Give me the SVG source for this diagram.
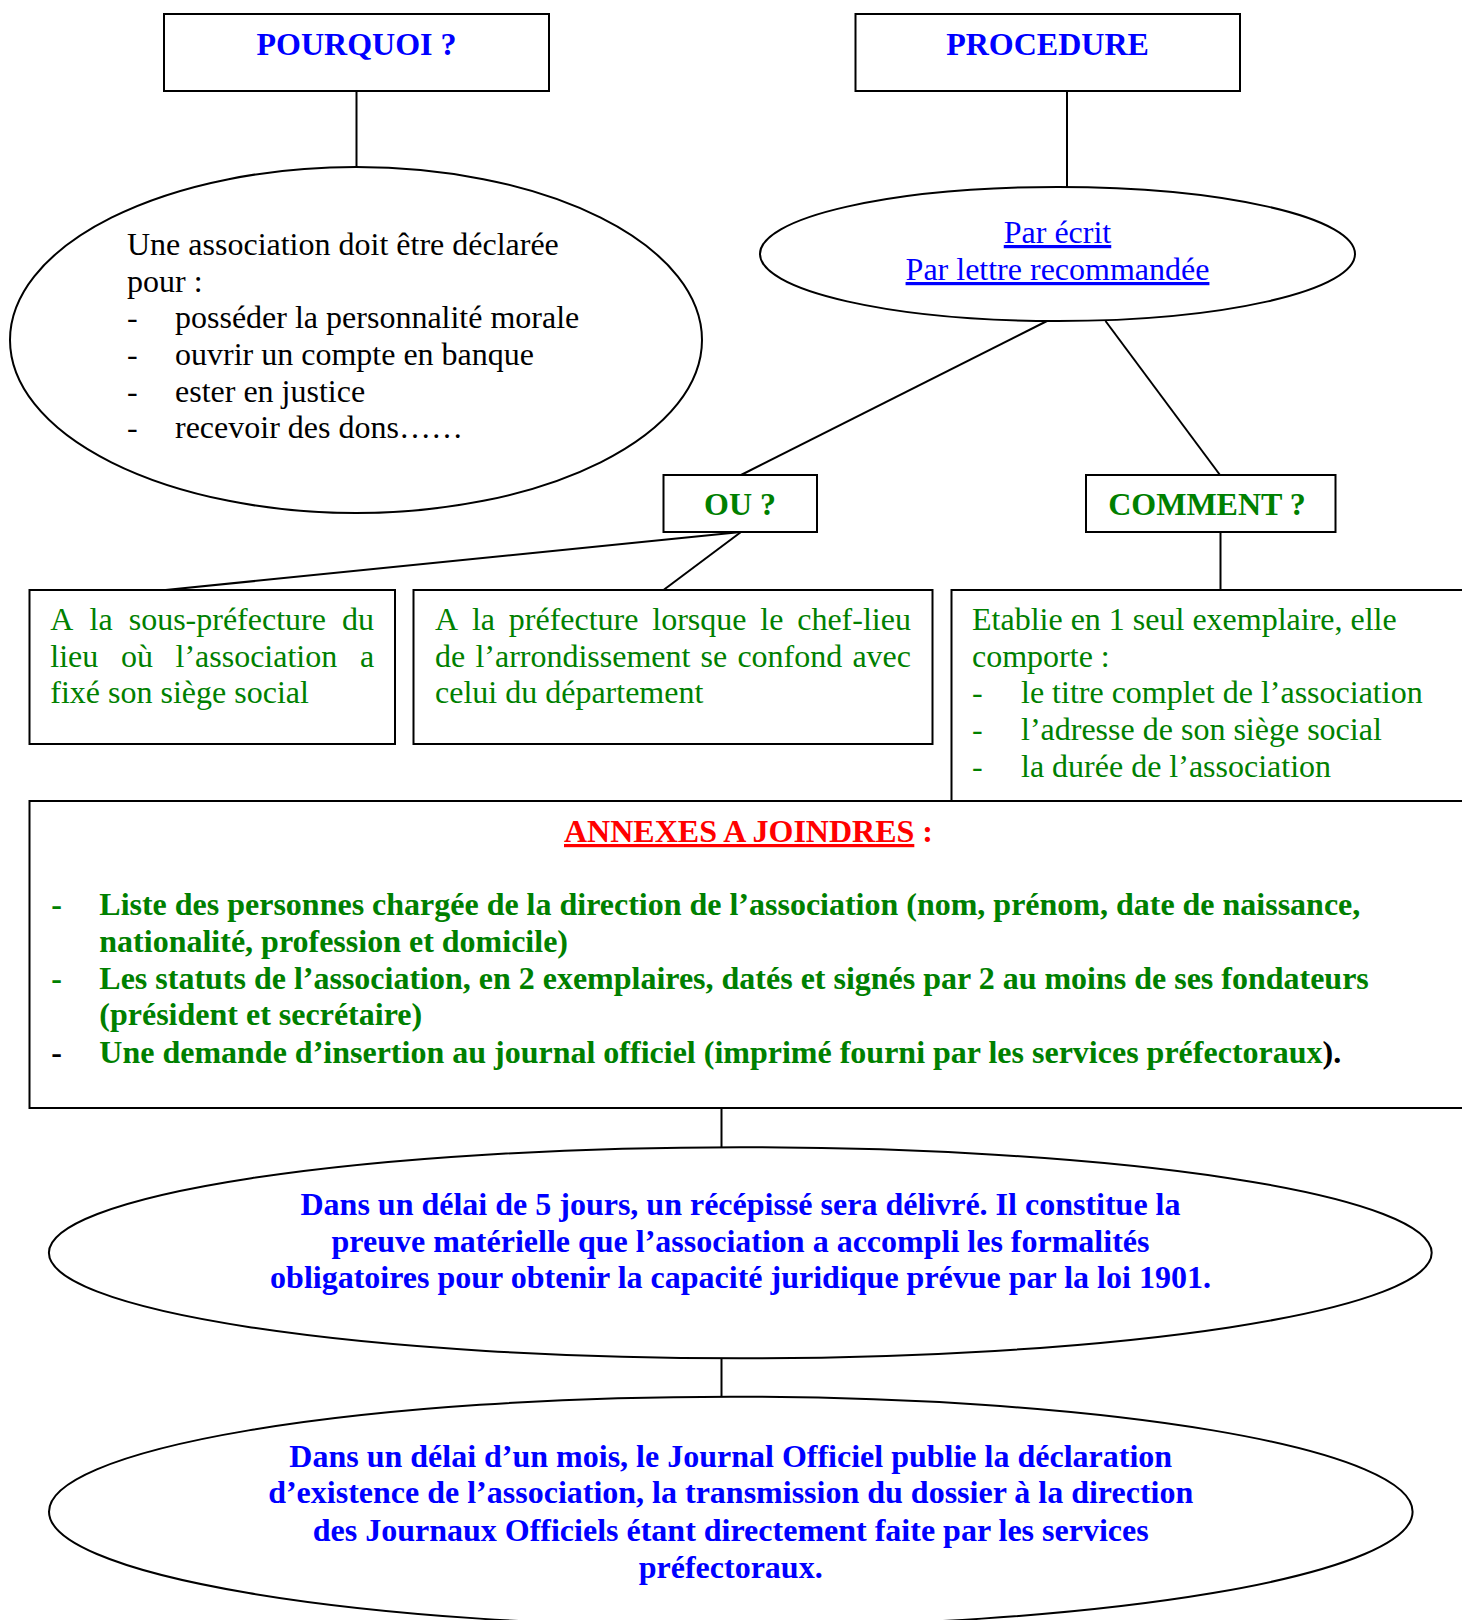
<svg xmlns="http://www.w3.org/2000/svg" width="1462" height="1620" viewBox="0 0 1462 1620">
  <style>
    text { font-family: "Liberation Serif", "Times New Roman", serif; font-size: 32px; }
    .shape { fill: #ffffff; stroke: #000000; stroke-width: 2; }
    .link { stroke: #000000; stroke-width: 2; fill: none; }
    .b { font-weight: bold; }
    .blue { fill: #0000ff; }
    .green { fill: #008000; }
    .red { fill: #ff0000; }
    .black { fill: #000000; }
    .mid { text-anchor: middle; }
    .ul { text-decoration: underline; }
  </style>
  <rect width="1462" height="1620" fill="#ffffff"/>

  <!-- connectors -->
  <g id="connectors">
    <line class="link" x1="356.5" y1="91" x2="356.5" y2="167"/>
    <line class="link" x1="1067" y1="91" x2="1067" y2="187"/>
    <line class="link" x1="1047" y1="321" x2="741" y2="475"/>
    <line class="link" x1="1105.5" y1="321" x2="1220" y2="475"/>
    <line class="link" x1="741" y1="532" x2="165.5" y2="590"/>
    <line class="link" x1="741" y1="532" x2="663.5" y2="590"/>
    <line class="link" x1="1220.5" y1="532" x2="1220.5" y2="590"/>
    <line class="link" x1="721.5" y1="1108" x2="721.5" y2="1147"/>
    <line class="link" x1="721.5" y1="1358" x2="721.5" y2="1397"/>
  </g>

  <!-- POURQUOI ? -->
  <g id="pourquoi">
    <rect class="shape" x="164" y="14" width="385" height="77"/>
    <text class="b blue mid" x="356.5" y="55">POURQUOI ?</text>
  </g>

  <!-- PROCEDURE -->
  <g id="procedure">
    <rect class="shape" x="855.5" y="14" width="384.5" height="77"/>
    <text class="b blue mid" x="1047.5" y="55">PROCEDURE</text>
  </g>

  <!-- reasons for declaring -->
  <g id="raisons">
    <ellipse class="shape" cx="356" cy="340" rx="346" ry="173"/>
    <text class="black" x="127" y="255">Une association doit être déclarée</text>
    <text class="black" x="127" y="292">pour :</text>
    <text class="black" x="127" y="328">-</text>
    <text class="black" x="175" y="328">posséder la personnalité morale</text>
    <text class="black" x="127" y="365">-</text>
    <text class="black" x="175" y="365">ouvrir un compte en banque</text>
    <text class="black" x="127" y="402">-</text>
    <text class="black" x="175" y="402">ester en justice</text>
    <text class="black" x="127" y="438">-</text>
    <text class="black" x="175" y="438">recevoir des dons……</text>
  </g>

  <!-- written procedure -->
  <g id="ecrit">
    <ellipse class="shape" cx="1057.5" cy="254" rx="297.5" ry="67"/>
    <text class="blue mid ul" x="1057.5" y="243">Par écrit</text>
    <text class="blue mid ul" x="1057.5" y="280">Par lettre recommandée</text>
  </g>

  <!-- OU ? -->
  <g id="ou">
    <rect class="shape" x="663.5" y="475" width="153.5" height="57"/>
    <text class="b green mid" x="740" y="515">OU ?</text>
  </g>

  <!-- COMMENT ? -->
  <g id="comment">
    <rect class="shape" x="1086" y="475" width="249.5" height="57"/>
    <text class="b green mid" x="1207" y="515">COMMENT ?</text>
  </g>

  <!-- sous-préfecture (justified: words placed one by one) -->
  <g id="sous-prefecture">
    <rect class="shape" x="29.5" y="590" width="365.5" height="154"/>
    <text class="green" y="630"><tspan x="50.3">A</tspan><tspan x="89.5">la</tspan><tspan x="128.7">sous-préfecture</tspan><tspan x="342">du</tspan></text>
    <text class="green" y="667"><tspan x="50.3">lieu</tspan><tspan x="120.9">où</tspan><tspan x="175.5">l’association</tspan><tspan x="359.9">a</tspan></text>
    <text class="green" x="50.3" y="703">fixé son siège social</text>
  </g>

  <!-- préfecture (justified: words placed one by one) -->
  <g id="prefecture">
    <rect class="shape" x="413.5" y="590" width="519" height="154"/>
    <text class="green" y="630"><tspan x="435">A</tspan><tspan x="471.9">la</tspan><tspan x="508.8">préfecture</tspan><tspan x="652.3">lorsque</tspan><tspan x="760.3">le</tspan><tspan x="797.2">chef-lieu</tspan></text>
    <text class="green" y="667"><tspan x="435">de</tspan><tspan x="475.4">l’arrondissement</tspan><tspan x="700.5">se</tspan><tspan x="737.4">confond</tspan><tspan x="852.4">avec</tspan></text>
    <text class="green" x="435" y="703">celui du département</text>
  </g>

  <!-- contents of the declaration -->
  <g id="contenu">
    <rect class="shape" x="951.5" y="590" width="530" height="211"/>
    <text class="green" x="972" y="630">Etablie en 1 seul exemplaire, elle</text>
    <text class="green" x="972" y="667">comporte :</text>
    <text class="green" x="972" y="703">-</text>
    <text class="green" x="1021" y="703">le titre complet de l’association</text>
    <text class="green" x="972" y="740">-</text>
    <text class="green" x="1021" y="740">l’adresse de son siège social</text>
    <text class="green" x="972" y="777">-</text>
    <text class="green" x="1021" y="777">la durée de l’association</text>
  </g>

  <!-- documents to attach -->
  <g id="annexes">
    <rect class="shape" x="29.5" y="801" width="1452" height="307"/>
    <text class="b red" x="564" y="842"><tspan class="ul">ANNEXES A JOINDRES</tspan> :</text>
    <text class="b green" x="51.3" y="915">-</text>
    <text class="b green" x="99.3" y="915" textLength="1261" lengthAdjust="spacing">Liste des personnes chargée de la direction de l’association (nom, prénom, date de naissance,</text>
    <text class="b green" x="99.3" y="952">nationalité, profession et domicile)</text>
    <text class="b green" x="51.3" y="989">-</text>
    <text class="b green" x="99.3" y="989" textLength="1269.5" lengthAdjust="spacing">Les statuts de l’association, en 2 exemplaires, datés et signés par 2 au moins de ses fondateurs</text>
    <text class="b green" x="99.3" y="1025">(président et secrétaire)</text>
    <text class="b black" x="51.3" y="1063">-</text>
    <text class="b green" x="99.3" y="1063">Une demande d’insertion au journal officiel (imprimé fourni par les services préfectoraux<tspan class="black">).</tspan></text>
  </g>

  <!-- receipt -->
  <g id="recepisse">
    <ellipse class="shape" cx="740.3" cy="1252.8" rx="691.4" ry="105.5"/>
    <text class="b blue mid" x="740.5" y="1215">Dans un délai de 5 jours, un récépissé sera délivré. Il constitue la</text>
    <text class="b blue mid" x="740.5" y="1252">preuve matérielle que l’association a accompli les formalités</text>
    <text class="b blue mid" x="740.5" y="1288">obligatoires pour obtenir la capacité juridique prévue par la loi 1901.</text>
  </g>

  <!-- publication -->
  <g id="publication">
    <ellipse class="shape" cx="730.8" cy="1511.7" rx="681.8" ry="115"/>
    <text class="b blue mid" x="730.7" y="1467">Dans un délai d’un mois, le Journal Officiel publie la déclaration</text>
    <text class="b blue mid" x="730.7" y="1503">d’existence de l’association, la transmission du dossier à la direction</text>
    <text class="b blue mid" x="730.7" y="1541">des Journaux Officiels étant directement faite par les services</text>
    <text class="b blue mid" x="730.7" y="1578">préfectoraux.</text>
  </g>
</svg>
